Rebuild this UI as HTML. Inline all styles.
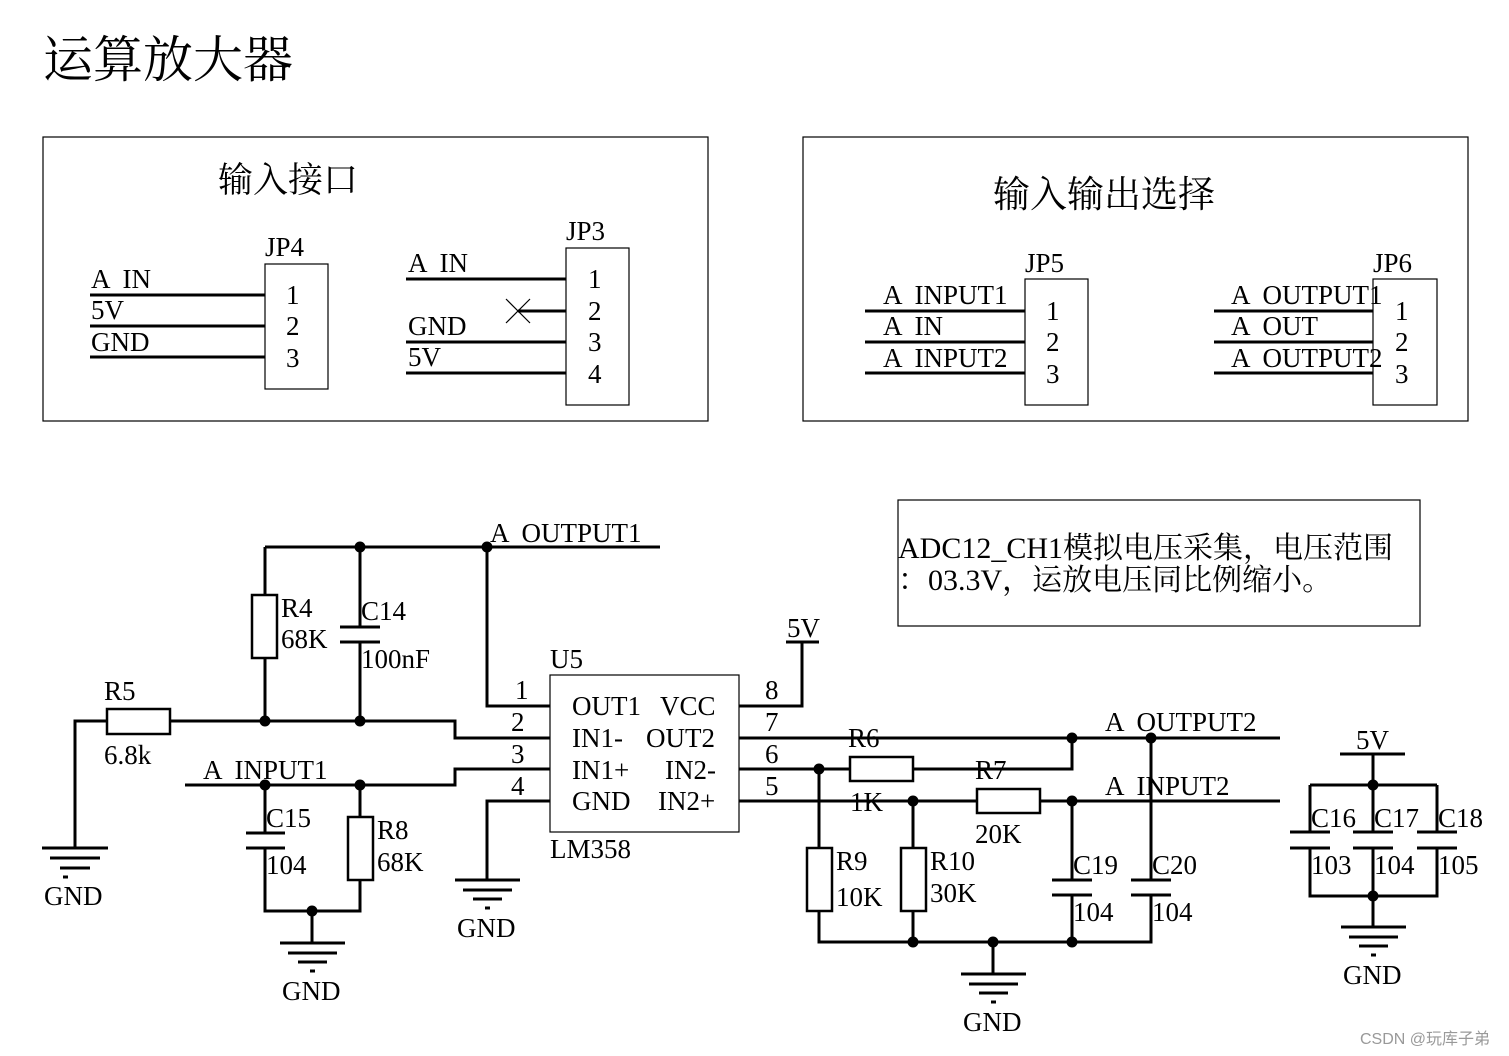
<!DOCTYPE html>
<html><head><meta charset="utf-8"><style>
html,body{margin:0;padding:0;background:#fff}
svg{display:block}
text{font-family:"Liberation Serif","Noto Serif CJK SC",serif;font-size:27px;fill:#000}
.cn{font-family:"Liberation Serif","Noto Serif CJK SC","Noto Sans CJK SC",serif}
.w{stroke:#000;stroke-width:3;fill:none}
.t{stroke:#000;stroke-width:1.2;fill:none}
.r{stroke:#000;stroke-width:2.5;fill:#fff}
</style></head><body>
<svg width="1509" height="1056" viewBox="0 0 1509 1056" xmlns="http://www.w3.org/2000/svg">
<text x="43" y="77" class="cn" style="font-size:50px">运算放大器</text>

<!-- left box -->
<rect x="43" y="137" width="665" height="284" class="t"/>
<text x="218" y="192" class="cn" style="font-size:35px">输入接口</text>
<text x="265" y="256">JP4</text>
<rect x="265" y="264" width="63" height="125" class="t"/>
<path class="w" d="M90 295H265M90 326H265M90 357H265"/>
<text x="91" y="288" xml:space="preserve">A  IN</text>
<text x="91" y="319">5V</text>
<text x="91" y="351">GND</text>
<text x="286" y="304">1</text><text x="286" y="335">2</text><text x="286" y="367">3</text>

<text x="566" y="240">JP3</text>
<rect x="566" y="248" width="63" height="157" class="t"/>
<path class="w" d="M406 279H566M518 311H566M406 342H566M406 373H566"/>
<path class="t" d="M506 299L530 323M530 299L506 323"/>
<text x="408" y="272" xml:space="preserve">A  IN</text>
<text x="408" y="335">GND</text>
<text x="408" y="366">5V</text>
<text x="588" y="288">1</text><text x="588" y="320">2</text><text x="588" y="351">3</text><text x="588" y="383">4</text>

<!-- right box -->
<rect x="803" y="137" width="665" height="284" class="t"/>
<text x="993" y="207" class="cn" style="font-size:37px">输入输出选择</text>
<text x="1025" y="272">JP5</text>
<rect x="1025" y="279" width="63" height="126" class="t"/>
<path class="w" d="M865 311H1025M865 342H1025M865 373H1025"/>
<text x="883" y="304" xml:space="preserve">A  INPUT1</text>
<text x="883" y="335" xml:space="preserve">A  IN</text>
<text x="883" y="367" xml:space="preserve">A  INPUT2</text>
<text x="1046" y="320">1</text><text x="1046" y="351">2</text><text x="1046" y="383">3</text>
<text x="1373" y="272">JP6</text>
<rect x="1373" y="279" width="64" height="126" class="t"/>
<path class="w" d="M1214 311H1373M1214 342H1373M1214 373H1373"/>
<text x="1231" y="304" xml:space="preserve">A  OUTPUT1</text>
<text x="1231" y="335" xml:space="preserve">A  OUT</text>
<text x="1231" y="367" xml:space="preserve">A  OUTPUT2</text>
<text x="1395" y="320">1</text><text x="1395" y="351">2</text><text x="1395" y="383">3</text>

<!-- note -->
<rect x="898" y="500" width="522" height="126" class="t"/>
<text x="898" y="558" class="cn" style="font-size:30px">ADC12_CH1模拟电压采集，电压范围</text>
<text x="898" y="590" class="cn" style="font-size:30px">：03.3V，运放电压同比例缩小。</text>

<!-- left schematic wires -->
<path class="w" d="M265 547H660M265 547V595M265 658V721M360 547V627M360 642V721
M75 848V721H107M170 721H455V738H550M487 547V706H550
M185 785H455V769H550M550 801H487V880
M265 785V833M265 848V911H360V880M360 817V785M312 911V943"/>
<rect x="252" y="595" width="25" height="63" class="r"/>
<rect x="107" y="709" width="63" height="25" class="r"/>
<rect x="348" y="817" width="25" height="63" class="r"/>
<path class="w" d="M340 627H380M340 642H380M246 833H285M246 848H285"/>
<g fill="#000">
<circle cx="360" cy="547" r="5.5"/><circle cx="487" cy="547" r="5.5"/>
<circle cx="265" cy="721" r="5.5"/><circle cx="360" cy="721" r="5.5"/>
<circle cx="265" cy="785" r="5.5"/><circle cx="360" cy="785" r="5.5"/>
<circle cx="312" cy="911" r="5.5"/>
</g>
<text x="490" y="542" xml:space="preserve">A  OUTPUT1</text>
<text x="281" y="617">R4</text><text x="281" y="648">68K</text>
<text x="361" y="620">C14</text><text x="361" y="668">100nF</text>
<text x="104" y="700">R5</text><text x="104" y="764">6.8k</text>
<text x="203" y="779" xml:space="preserve">A  INPUT1</text>
<text x="266" y="827">C15</text><text x="266" y="874">104</text>
<text x="377" y="839">R8</text><text x="377" y="871">68K</text>

<!-- GND symbols -->
<g class="w">
<path d="M42 848H108M50 858H100M60 868H90M63 877H68"/>
<path d="M280 943H345M288 953H337M298 962H327M310 971H315"/>
<path d="M455 880H520M463 890H512M473 899H502M485 908H490"/>
<path d="M961 974H1026M969 984H1018M979 993H1008M991 1002H996"/>
<path d="M1341 927H1406M1349 937H1398M1359 946H1388M1371 955H1376"/>
</g>
<text x="44" y="905">GND</text>
<text x="282" y="1000">GND</text>
<text x="457" y="937">GND</text>
<text x="963" y="1031">GND</text>
<text x="1343" y="984">GND</text>

<!-- U5 -->
<rect x="550" y="675" width="189" height="157" class="t"/>
<text x="550" y="668">U5</text><text x="550" y="858">LM358</text>
<text x="515" y="699">1</text><text x="511" y="731">2</text><text x="511" y="763">3</text><text x="511" y="795">4</text>
<text x="765" y="699">8</text><text x="765" y="731">7</text><text x="765" y="763">6</text><text x="765" y="795">5</text>
<text x="572" y="715">OUT1</text><text x="660" y="715">VCC</text>
<text x="572" y="747">IN1-</text><text x="646" y="747">OUT2</text>
<text x="572" y="779">IN1+</text><text x="665" y="779">IN2-</text>
<text x="572" y="810">GND</text><text x="658" y="810">IN2+</text>

<!-- right schematic wires -->
<path class="w" d="M739 706H802V642M786 642H819M739 738H1280M739 769H850M913 769H1072V738
M739 801H977M1040 801H1280M819 769V848M819 911V942H1151V895M1151 880V738
M913 801V848M913 911V942M1072 801V880M1072 895V942M993 942V974"/>
<rect x="850" y="757" width="63" height="24" class="r"/>
<rect x="977" y="789" width="63" height="24" class="r"/>
<rect x="807" y="848" width="25" height="63" class="r"/>
<rect x="901" y="848" width="25" height="63" class="r"/>
<path class="w" d="M1052 880H1092M1052 895H1092M1131 880H1171M1131 895H1171"/>
<g fill="#000">
<circle cx="1072" cy="738" r="5.5"/><circle cx="1151" cy="738" r="5.5"/>
<circle cx="819" cy="769" r="5.5"/><circle cx="913" cy="801" r="5.5"/><circle cx="1072" cy="801" r="5.5"/>
<circle cx="913" cy="942" r="5.5"/><circle cx="993" cy="942" r="5.5"/><circle cx="1072" cy="942" r="5.5"/>
</g>
<text x="787" y="637">5V</text>
<text x="1105" y="731" xml:space="preserve">A  OUTPUT2</text>
<text x="1105" y="795" xml:space="preserve">A  INPUT2</text>
<text x="848" y="747">R6</text><text x="850" y="811">1K</text>
<text x="975" y="779">R7</text><text x="975" y="843">20K</text>
<text x="836" y="870">R9</text><text x="836" y="906">10K</text>
<text x="930" y="870">R10</text><text x="930" y="902">30K</text>
<text x="1073" y="874">C19</text><text x="1073" y="921">104</text>
<text x="1152" y="874">C20</text><text x="1152" y="921">104</text>

<!-- decoupling caps -->
<path class="w" d="M1340 754H1405M1373 754V785M1310 785H1437M1310 785V832M1373 785V832M1437 785V832
M1310 848V896H1437V848M1373 848V896M1373 896V927
M1290 832H1330M1290 848H1330M1353 832H1393M1353 848H1393M1417 832H1457M1417 848H1457"/>
<circle cx="1373" cy="785" r="5.5" fill="#000"/><circle cx="1373" cy="896" r="5.5" fill="#000"/>
<text x="1356" y="749">5V</text>
<text x="1311" y="827">C16</text><text x="1374" y="827">C17</text><text x="1438" y="827">C18</text>
<text x="1311" y="874">103</text><text x="1374" y="874">104</text><text x="1438" y="874">105</text>

<text x="1360" y="1044" class="cn" style="font-size:16px;fill:#999;font-family:'Liberation Sans','Noto Sans CJK SC',sans-serif">CSDN @玩库子弟</text>
</svg>
</body></html>
